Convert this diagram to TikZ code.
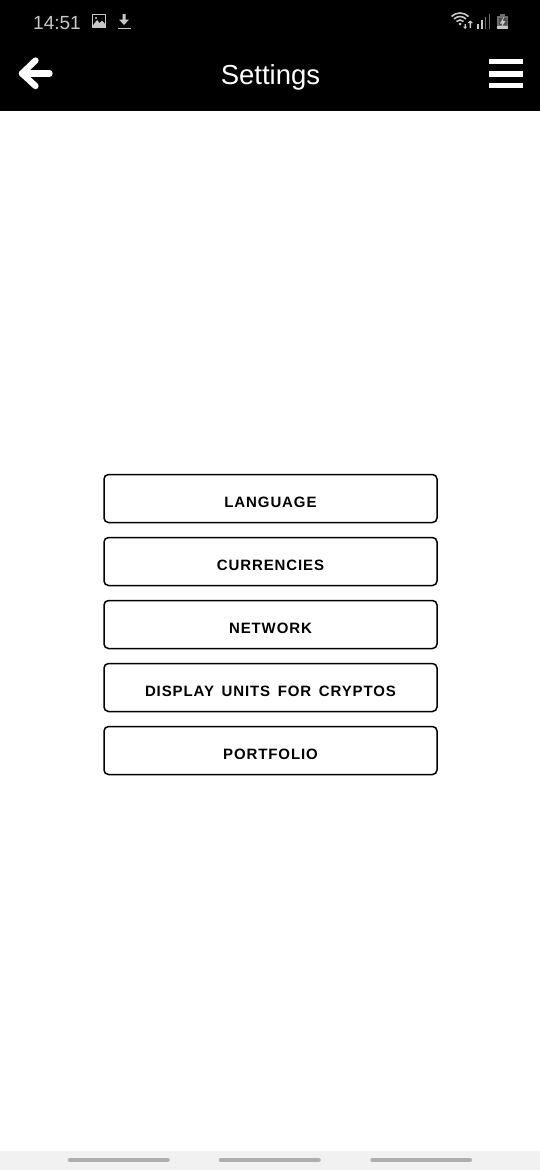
\documentclass[tikz,border=0pt]{standalone}
\usepackage{fontspec}
\setmainfont{Liberation Sans}
\newfontfamily\btnfont[LetterSpace=6,WordSpace=1.5]{Liberation Sans}
\definecolor{statusgray}{HTML}{C8C8C8}
\definecolor{statusdim}{HTML}{6E6E6E}
\definecolor{navbar}{HTML}{F1F1F1}
\definecolor{navmark}{HTML}{AEAEAE}
\tikzset{
    menubtn/.style={draw=black,line width=1.5pt,rounded corners=4.5pt,minimum width=333pt,minimum height=48pt,inner sep=0pt},
    btnlabel/.style={font=\fontsize{15}{18}\bfseries\btnfont,text=black,inner sep=0pt,anchor=base},
    navmarkline/.style={navmark,line width=4.5pt,line cap=round},
    hamburger/.style={white,line width=5.8pt},
}
\begin{document}
\begin{tikzpicture}[x=1pt,y=-1pt]
    \useasboundingbox (0,0) rectangle (540,1170);
    %% Header
    \fill[black] (0,0) rectangle (540,111);
    \node[text=statusgray,font=\fontsize{19}{24}\selectfont,inner sep=0pt,anchor=base west] (clock) at (33,29) {14:51};
    \node[text=white,font=\fontsize{27.5}{30}\selectfont,inner sep=0pt,anchor=base] (title) at (270.5,84.5) {Settings};
    %% Status icons
    \draw[statusgray,line width=1.3pt] (92.2,14.7) rectangle (105.8,27.8);
    \fill[statusgray] (92.5,26) -- (97,20) -- (99.5,23) -- (102,20.5) -- (105.5,24.5) -- (105.5,27.5) -- (92.5,27.5) -- cycle;
    \fill[statusgray] (96,18) circle (1.2pt);
    \fill[statusgray] (122.5,14) -- (125.5,14) -- (125.5,19.5) -- (129,19.5) -- (124,25) -- (119,19.5) -- (122.5,19.5) -- cycle;
    \fill[statusgray] (118,27.5) rectangle (130.5,29);
    \foreach \r in {5,8.5,12} {
        \draw[statusgray,line width=1.6pt] (460,25) ++(225:\r) arc(225:315:\r);
    }
    \fill[statusgray] (460,24) circle (1.5pt);
    %% up and down arrows
    \fill[statusgray] (464.5,24) -- (465.8,24) -- (465.8,26.5) -- (467.3,26.5) -- (465.1,29) -- (463,26.5) -- (464.5,26.5) -- cycle;
    \fill[statusgray] (469.5,28) -- (471,28) -- (471,23) -- (473,23) -- (470.2,20.5) -- (467.5,23) -- (469.5,23) -- cycle;
    \foreach \x/\h in {477.5/5,481.5/8.5} {
        \fill[statusgray] (\x-1,28.5) rectangle (\x+1,28.5-\h);
    }
    \foreach \x/\h in {485.3/11.5,489.3/15} {
        \fill[statusdim] (\x-0.8,28.5) rectangle (\x+0.8,28.5-\h);
    }
    \fill[statusdim] (497,16) rectangle (508,29);
    \fill[statusdim] (500,13.5) rectangle (505,16);
    \fill[statusdim!70!black] (498.5,17.5) rectangle (506.5,25);
    \fill[statusgray] (497,25.5) rectangle (508,29);
    \fill[statusgray] (504,16.5) -- (500,23.5) -- (502.5,23.5) -- (501,28) -- (505.5,21) -- (503,21) -- cycle;
    %% Back arrow and menu
    \draw[white,line width=6.3pt,line cap=round,line join=round] (35.5,60.5) -- (22,73.5) -- (35.5,86);
    \draw[white,line width=6.3pt,line cap=round] (22,73.5) -- (49.5,73.5);
    \foreach \y in {61.5,73.8,85.5} {
        \draw[hamburger] (489,\y) -- (523,\y);
    }
    %% Buttons
    \foreach \name/\lbl [count=\i from 0] in {language/LANGUAGE,currencies/CURRENCIES,network/NETWORK,units/DISPLAY UNITS FOR CRYPTOS,portfolio/PORTFOLIO} {
        \node[menubtn] (\name) at (270.5,498.5+63*\i) {};
        \node[btnlabel] (\name label) at (270.5,507+63*\i) {\lbl};
    }
    %% Bottom bar
    \fill[navbar] (0,1150.5) rectangle (540,1170);
    \coordinate (navA) at (70,1160);
    \coordinate (navB) at (167.5,1160);
    \coordinate (navC) at (221,1160);
    \coordinate (navD) at (318.5,1160);
    \coordinate (navE) at (372.5,1160);
    \coordinate (navF) at (470,1160);
    \draw[navmarkline] (navA) -- (navB);
    \draw[navmarkline] (navC) -- (navD);
    \draw[navmarkline] (navE) -- (navF);
\end{tikzpicture}
\end{document}
